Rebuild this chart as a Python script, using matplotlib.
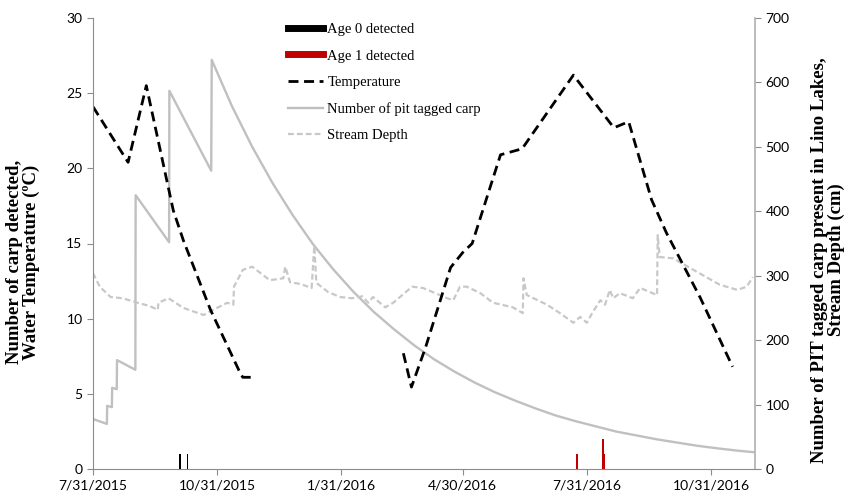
import matplotlib
matplotlib.use("Agg")
import matplotlib.pyplot as plt
from matplotlib.lines import Line2D

# ---------------- data (x = days since 7/31/2015) ----------------
tick_days = [0, 92, 184, 274, 366, 458]
tick_labels = ["7/31/2015", "10/31/2015", "1/31/2016", "4/30/2016", "7/31/2016", "10/31/2016"]

age0_days = [64.5, 70.0]
age0_counts = [1, 1]
age1_days = [359.0, 377.8, 379.0]
age1_counts = [1, 2, 1]

temp1_days = [0, 26, 39.5, 59.5, 67, 87, 109, 111, 119]
temp1_vals = [24.1, 20.4, 25.5, 17.2, 15.2, 10.6, 6.4, 6.1, 6.1]

temp2_days = [230, 236, 246.5, 265, 274, 281, 302, 318, 356, 386, 397, 414, 425, 450, 474]
temp2_vals = [7.7, 5.45, 8.1, 13.4, 14.4, 15.0, 20.9, 21.3, 26.2, 22.7, 23.1, 17.9, 15.7, 11.4, 6.8]

pit_days = [0, 10.3, 10.5, 14.0, 14.2, 17.6, 17.8, 31.4, 31.6, 56.4, 56.6, 87.6,
            88, 103, 118, 133, 148, 163, 178, 193, 208, 223, 238, 253, 268, 283,
            298, 313, 328, 343, 358, 373, 388, 403, 418, 433, 448, 463, 478, 490]
pit_vals = [77.6, 70, 98, 96, 126, 124, 169, 154, 425, 352, 587, 463,
            635, 563, 500, 444, 394, 349, 310, 275, 244, 217, 192, 170, 151, 134,
            119, 106, 94, 83, 74, 66, 58, 52, 46, 41, 36, 32, 28.4, 26]

depth_days = [0, 5, 13, 22, 33, 42, 48, 48.5, 56, 67, 82, 89, 99.5, 104, 104.5, 111,
              118, 131, 141, 142.5, 146, 154, 162, 164, 165.5, 174, 183, 192, 199.5,
              204, 207.5, 216.5, 222.5, 227.5, 236.5, 244.5, 257, 262.5, 267, 272, 277,
              287, 296.5, 311, 318.5, 319, 321.5, 336.5, 346, 356, 361, 366, 370.5, 376,
              379.5, 383, 385.5, 390.5, 400, 405.5, 418, 418.5, 420, 430, 442.5, 464.5,
              477.5, 484.5, 489]
depth_vals = [304, 283, 267, 265, 258, 253, 247, 258, 265, 250, 239, 247, 258, 255, 283, 309,
              314, 293, 296, 314, 290, 287, 281, 346, 289, 275, 267, 265, 268,
              258, 267, 251, 258, 267, 283, 281, 270, 265, 262, 283, 283,
              273, 258, 251, 242, 296, 270, 255, 242, 227, 236, 227, 244, 262,
              255, 278, 265, 273, 265, 281, 270, 363, 329, 327, 312, 286,
              278, 283, 298]

# ---------------- figure ----------------
serif = "Liberation Serif"
tickfont = "Lato"

fig = plt.figure(figsize=(8.46, 4.96), dpi=100)
ax = fig.add_axes([93 / 846, 1 - 469 / 496, (755 - 93) / 846, (469 - 18) / 496])
ax2 = ax.twinx()
ax.set_zorder(2)
ax.patch.set_visible(False)

ax.bar(age0_days, age0_counts, width=1.4, color="black", zorder=3)
ax.bar(age1_days, age1_counts, width=1.4, color="#C00000", zorder=3)
ax.plot(temp1_days, temp1_vals, color="black", lw=2.0, ls=(0, (3.6, 2.0)))
ax.plot(temp2_days, temp2_vals, color="black", lw=2.0, ls=(0, (3.6, 2.0)))

ax2.plot(pit_days, pit_vals, color="#C0C0C0", lw=1.7)
ax2.plot(depth_days, depth_vals, color="#C8C8C8", lw=1.6, ls=(0, (2.6, 1.4)))

ax.set_xlim(0, 490.6)
ax.set_ylim(0, 30)
ax2.set_ylim(0, 700)
ax.set_yticks(range(0, 31, 5))
ax2.set_yticks(range(0, 701, 100))
ax.set_xticks(tick_days)
ax.set_xticklabels(tick_labels)

spine_col = "#8C8C8C"
for a in (ax, ax2):
    a.spines["top"].set_visible(False)
ax.spines["right"].set_visible(False)
ax2.spines["left"].set_visible(False)
ax2.spines["bottom"].set_visible(False)
ax.spines["left"].set_color(spine_col)
ax.spines["bottom"].set_color(spine_col)
ax2.spines["right"].set_color("#B0B0B0")
ax2.spines["right"].set_linewidth(1.2)

ax.tick_params(axis="both", direction="out", length=4, color=spine_col, labelsize=10)
ax2.tick_params(axis="y", direction="out", length=4, color=spine_col, labelsize=10)
for lab in ax.get_xticklabels() + ax.get_yticklabels() + ax2.get_yticklabels():
    lab.set_fontfamily(tickfont)

fig.text(23 / 846, 1 - 262 / 496, "Number of carp detected,\nWater Temperature (\u00baC)",
         rotation=90, ha="center", va="center", ma="center", family=serif,
         fontweight="bold", fontsize=13.5, linespacing=1.05)
fig.text(828 / 846, 1 - 260 / 496, "Number of PIT tagged carp present in Lino Lakes,\nStream Depth (cm)",
         rotation=90, ha="center", va="center", ma="center", family=serif,
         fontweight="bold", fontsize=13.5, linespacing=1.05)

handles = [
    Line2D([], [], color="black", lw=5),
    Line2D([], [], color="#C00000", lw=5),
    Line2D([], [], color="black", lw=2.0, ls=(0, (3.6, 2.0))),
    Line2D([], [], color="#C0C0C0", lw=1.7),
    Line2D([], [], color="#C8C8C8", lw=1.6, ls=(0, (2.6, 1.4))),
]
labels = ["Age 0 detected", "Age 1 detected", "Temperature", "Number of pit tagged carp", "Stream Depth"]
leg = fig.legend(handles, labels, loc="upper left", bbox_to_anchor=(288 / 846, 1 - 23 / 496),
                 frameon=False, prop={"family": serif, "size": 10.5}, handlelength=2.4,
                 handletextpad=0.3, labelspacing=0.9, borderpad=0, borderaxespad=0)

fig.savefig("out.png", dpi=100)
